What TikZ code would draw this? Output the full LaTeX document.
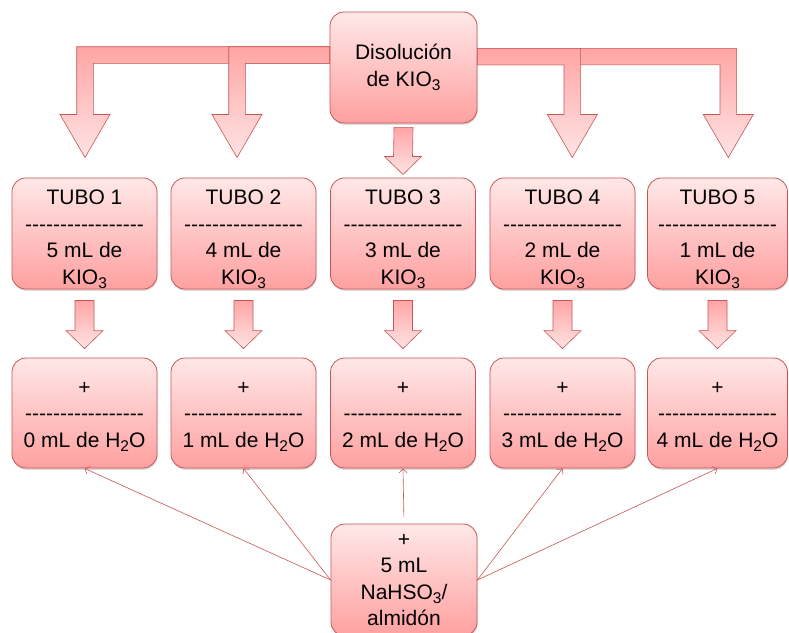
\documentclass[tikz,border=0pt]{standalone}
\usepackage{fontspec}
\setmainfont{Liberation Sans}
\usetikzlibrary{calc,shadows,backgrounds,arrows.meta}

\definecolor{boxtop}{RGB}{255,232,232}
\definecolor{boxbot}{RGB}{255,160,160}
\definecolor{boxline}{RGB}{200,85,85}
\definecolor{arrtop}{RGB}{255,165,165}
\definecolor{arrbot}{RGB}{255,228,228}

% row of hyphens under the headings
\newcommand\dashrule{\foreach\i in {1,...,17}{\hbox{-}}}
% chemical subscript
\newcommand\chem[1]{\raisebox{-4.5pt}{\fontsize{15.5}{15.5}\selectfont #1}}

% straight block arrow from box #1 down to box #2 (#3, #4 = gaps)
\newcommand\droparrow[4]{%
  \path[blockarrow] ($(#1.south)+(-9.5,#3)$) -- ($(#2.north)+(-9.5,-#4-18)$)
    -- ++(-9,0) -- ($(#2.north)+(0,-#4)$) -- ($(#2.north)+(18.5,-#4-18)$)
    -- ++(-9,0) -- ($(#1.south)+(9.5,#3)$) -- cycle;}

% bent block arrow leaving the solution box sideways: side, band, shaft x, target, sign
\newcommand\bentarrow[5]{%
  \path[blockarrow]
    ($(sol.#1 |- #2)+(0,-8.3)$) -- ($(#3 |- #2)+(#5*8.3,-8.3)$)
    -- ($(#3 |- #4.north)+(#5*8.3,-63)$) -- ++(#5*16.7,0)
    -- ($(#3 |- #4.north)+(0,-20)$)
    -- ($(#3 |- #4.north)+(#5*-25,-63)$) -- ++(#5*16.7,0)
    -- ($(#3 |- #2)+(#5*-8.3,8.3)$) -- ($(sol.#1 |- #2)+(0,8.3)$) -- cycle;}

\begin{document}
\begin{tikzpicture}[x=1pt,y=-1pt,
    box/.style={draw=boxline,line width=0.8pt,rounded corners=14pt,
      top color=boxtop,bottom color=boxbot,minimum width=145pt,minimum height=111pt,
      inner sep=0pt,align=center,font=\fontsize{21}{26.5}\selectfont,
      drop shadow={opacity=0.3,shadow xshift=0.6pt,shadow yshift=-1.8pt}},
    blockarrow/.style={draw=boxline,line width=0.6pt,top color=arrtop,bottom color=arrbot},
    feed/.style={-{Straight Barb[length=4pt,width=8pt]},draw=boxline,line width=0.6pt}]
  \useasboundingbox (0,0) rectangle (789,632);

  \node[box,minimum width=147pt] (sol) at (403.5,67.5) {Disolución\\de KIO\chem{3}};

  \foreach \n/\x/\w in {1/84.5/145,2/243.5/145,3/403/145,4/562.5/145,5/717.5/140}{
    \pgfmathtruncatemacro\kio{6-\n}
    \pgfmathtruncatemacro\agua{\n-1}
    \node[box,minimum width=\w pt] (t\n) at (\x,233.5)
      {\rule{0pt}{27pt}TUBO \n\\\dashrule\\\kio{} mL de\\KIO\chem{3}};
    \node[box,minimum width=\w pt,minimum height=110pt] (w\n) at (\x,413)
      {\rule{0pt}{20pt}+\\\dashrule\\\agua{} mL de H\chem{2}O};
    \droparrow{t\n}{w\n}{11}{9}
  }

  \node[box,minimum width=146pt,minimum height=112pt] (mix) at (404,580)
    {+\\5 mL\\NaHSO\chem{3}/\\almidón};

  % the solution is shared out to the five tubes
  \coordinate (bandL) at (0,55);
  \coordinate (bandR) at (0,56.6);
  \coordinate (a1) at (85,0);
  \coordinate (a2) at (237,0);
  \coordinate (a4) at (572.3,0);
  \coordinate (a5) at (728.3,0);
  \begin{scope}[on background layer]
    \bentarrow{west}{bandL}{a1}{t1}{-1}
    \bentarrow{west}{bandL}{a2}{t2}{-1}
    \bentarrow{east}{bandR}{a5}{t5}{1}
    \bentarrow{east}{bandR}{a4}{t4}{1}
  \end{scope}
  \droparrow{sol}{t3}{4}{3}

  \draw[feed] (mix.west) -- (w1.south);
  \draw[feed] (mix.west) -- (w2.south);
  \draw[feed,shorten <=7pt] (mix.north) -- (w3.south);
  \draw[feed] (mix.east) -- (w4.south);
  \draw[feed] (mix.east) -- (w5.south);
\end{tikzpicture}
\end{document}
